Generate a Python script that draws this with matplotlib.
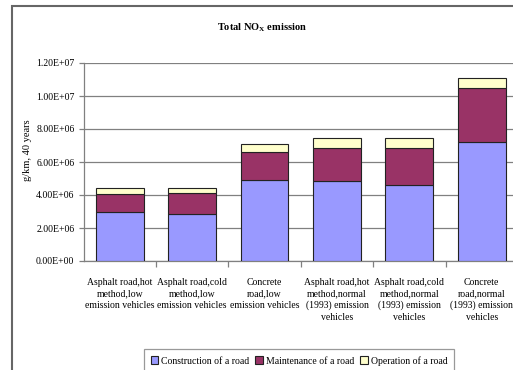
import numpy as np
import matplotlib
matplotlib.use("Agg")
from matplotlib import pyplot as plt
from matplotlib.patches import Rectangle

plt.rcParams['font.family'] = ['Liberation Serif', 'DejaVu Serif']
plt.rcParams['mathtext.default'] = 'regular'

categories = [
    "Asphalt road,hot\nmethod,low\nemission vehicles",
    "Asphalt road,cold\nmethod,low\nemission vehicles",
    "Concrete\nroad,low\nemission vehicles",
    "Asphalt road,hot\nmethod,normal\n(1993) emission\nvehicles",
    "Asphalt road,cold\nmethod,normal\n(1993) emission\nvehicles",
    "Concrete\nroad,normal\n(1993) emission\nvehicles",
]
construction = [2.99e6, 2.83e6, 4.89e6, 4.83e6, 4.60e6, 7.19e6]
maintenance = [1.09e6, 1.27e6, 1.71e6, 2.00e6, 2.27e6, 3.31e6]
operation = [0.34e6, 0.32e6, 0.47e6, 0.61e6, 0.57e6, 0.57e6]
yticks = [0, 2e6, 4e6, 6e6, 8e6, 1e7, 1.2e7]
ytick_labels = ["0.00E+00", "2.00E+06", "4.00E+06", "6.00E+06",
                "8.00E+06", "1.00E+07", "1.20E+07"]

series = [
    ("Construction of a road", construction, "#9999FF"),
    ("Maintenance of a road", maintenance, "#993366"),
    ("Operation of a road", operation, "#FFFFCC"),
]

fig = plt.figure(figsize=(5.13, 3.70), dpi=100)
ax = fig.add_axes([83.5 / 513, 1 - 261 / 370, (518 - 83.5) / 513, (261 - 63) / 370])

x = np.arange(len(categories))
bottom = np.zeros(len(categories))
for name, vals, color in series:
    ax.bar(x, vals, 0.66, bottom=bottom, color=color, edgecolor="#222222",
           linewidth=0.8, label=name, zorder=3)
    bottom += np.array(vals)

ax.set_xlim(-0.5, len(categories) - 0.5)
ax.set_ylim(0, 1.2e7)
ax.set_yticks(yticks)
ax.set_yticklabels(ytick_labels, fontsize=7)
ax.yaxis.grid(True, color="#808080", linewidth=0.9, zorder=0)

ax.set_xticks(x)
ax.set_xticklabels(categories, fontsize=7, linespacing=1.35)
ax.set_xticks(np.arange(0.5, len(categories) - 0.5), minor=True)
ax.tick_params(axis="x", which="major", length=0, pad=12)
ax.tick_params(axis="x", which="minor", length=4, color="#808080", width=0.9)
ax.tick_params(axis="y", length=3.5, color="#808080", width=0.9, pad=3)

for side in ["top", "right"]:
    ax.spines[side].set_visible(False)
for side in ["left", "bottom"]:
    ax.spines[side].set_color("#808080")
    ax.spines[side].set_linewidth(0.9)

fig.text(262 / 513, 1 - 28 / 370, "Total NO$_X$ emission", ha="center", va="center",
         fontsize=7.5, fontweight="bold")
fig.text(27 / 513, 1 - 150 / 370, "g/km, 40 years", ha="center", va="center",
         rotation=90, fontsize=7.5)

leg = ax.legend(loc="upper center", bbox_to_anchor=(299 / 513, 1 - 349 / 370),
                bbox_transform=fig.transFigure, ncol=3, fontsize=7, frameon=True,
                fancybox=False, edgecolor="#808080", handlelength=0.8,
                handleheight=0.8, handletextpad=0.3, columnspacing=0.6,
                borderpad=0.7, borderaxespad=0)
leg.get_frame().set_linewidth(0.9)

# outer chart border (runs off the right and bottom edges)
fig.patches.append(Rectangle((12 / 513, -0.2), 1.0, 1.2 - 6 / 370, fill=False,
                             edgecolor="#666666", linewidth=1.5,
                             transform=fig.transFigure, figure=fig))

fig.savefig("out.png", dpi=100)
